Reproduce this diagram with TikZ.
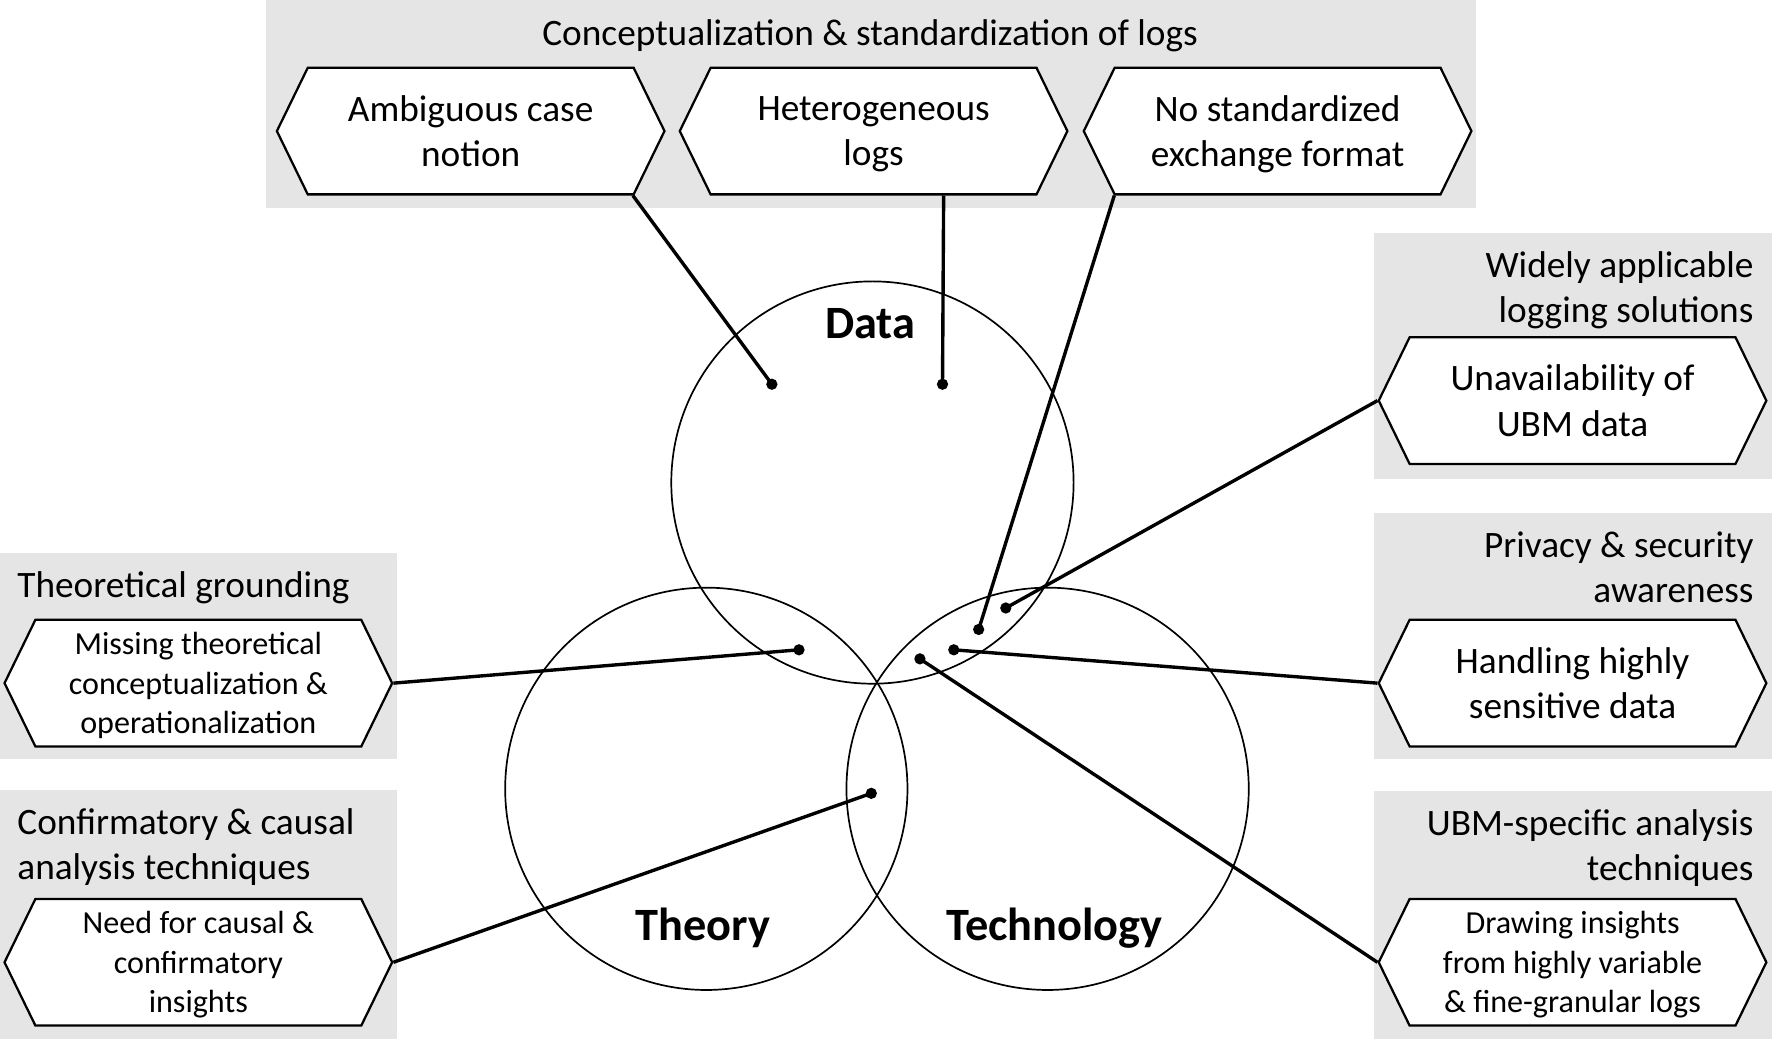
\documentclass[tikz,border=0pt]{standalone}
\usepackage{fontspec}
\setmainfont{Carlito}
\usetikzlibrary{shapes.symbols,calc}
\tikzset{
  panel/.style={fill=gray!20},
  hexbox/.style={signal, signal to=west and east, signal pointer angle=128,
    draw, line width=1pt, fill=white, inner sep=0pt, text depth=0pt,
    minimum width=171.5pt, minimum height=56pt, align=center,
    font=\fontsize{16.5}{20}\selectfont},
  smallhex/.style={hexbox, font=\fontsize{14.2}{17.5}\selectfont},
  title/.style={inner sep=0pt, text depth=0pt, font=\fontsize{16.5}{20}\selectfont},
  ring/.style={draw, circle, line width=0.75pt, minimum size=178pt, inner sep=0pt},
  dim/.style={font=\bfseries\fontsize{20.5}{24}\selectfont},
  dot/.style={circle, fill=black, inner sep=0pt, minimum size=5pt},
  link/.style={draw, line width=1.5pt}
}
\begin{document}
\begin{tikzpicture}[x=0.5pt, y=-0.5pt]
  \useasboundingbox (0,0) rectangle (1568,919);
  %% Panels
  \fill[panel] (235,0) rectangle (1306,184);
  \fill[panel] (1216,206) rectangle (1568,424);
  \fill[panel] (1216,454) rectangle (1568,672);
  \fill[panel] (1216,700) rectangle (1568,919);
  \fill[panel] (0,489) rectangle (351,672);
  \fill[panel] (0,699) rectangle (351,919);
  %% Circles
  \node[ring] (data) at (772,427) {};
  \node[ring] (theory) at (625,698) {};
  \node[ring] (tech) at (927,698) {};
  \node[dim] (dataL) at (770,286) {Data};
  \node[dim] (theoryL) at (622,821) {Theory};
  \node[dim] (techL) at (933,821) {Technology};
  %% Panel titles
  \node[title] (conc) at (770,29) {Conceptualization \& standardization of logs};
  \node[title, anchor=east, align=right] (wide) at (1552,254)
  {Widely applicable\\logging solutions};
  \node[title, anchor=east, align=right] (priv) at (1552,502)
  {Privacy \& security\\awareness};
  \node[title, anchor=east, align=right] (ubma) at (1552,748)
  {UBM-specific analysis\\techniques};
  \node[title, anchor=west] (theo) at (15,517) {Theoretical grounding};
  \node[title, anchor=west, align=left] (conf) at (15,747)
  {Confirmatory \& causal\\analysis techniques};
  %% Challenges
  \node[hexbox] (amb) at (416.5,116) {Ambiguous case\\notion};
  \node[hexbox] (het) at (773,116) {Heterogeneous\\logs};
  \node[hexbox] (nostd) at (1130.5,116) {No standardized\\exchange format};
  \node[hexbox] (unav) at (1391.5,354.5) {Unavailability of\\UBM data};
  \node[hexbox] (hand) at (1391.5,604.5) {Handling highly\\sensitive data};
  \node[smallhex] (draw) at (1391.5,851.5)
  {Drawing insights\\from highly variable\\\& fine-granular logs};
  \node[smallhex] (miss) at (175.5,604.5)
  {Missing theoretical\\conceptualization \&\\operationalization};
  \node[smallhex] (need) at (175.5,851.5)
  {Need for causal \&\\confirmatory\\insights};
  %% Dots
  \node[dot] (dAmb) at (683,340) {};
  \node[dot] (dHet) at (834,340) {};
  \node[dot] (dStd) at (866,557) {};
  \node[dot] (dUnav) at (890,538) {};
  \node[dot] (dHand) at (844,575) {};
  \node[dot] (dDraw) at (814,583) {};
  \node[dot] (dMiss) at (707,575) {};
  \node[dot] (dNeed) at (771,702) {};
  %% Connectors
  \path[link] ($(amb.south)+(143.5,0)$) -- (dAmb.center);
  \path[link] ($(het.south)+(62,0)$) -- (dHet.center);
  \path[link] ($(nostd.south)+(-144.5,0)$) -- (dStd.center);
  \path[link] (unav.west) -- (dUnav.center);
  \path[link] (hand.west) -- (dHand.center);
  \path[link] (draw.west) -- (dDraw.center);
  \path[link] (miss.east) -- (dMiss.center);
  \path[link] (need.east) -- (dNeed.center);
\end{tikzpicture}
\end{document}
